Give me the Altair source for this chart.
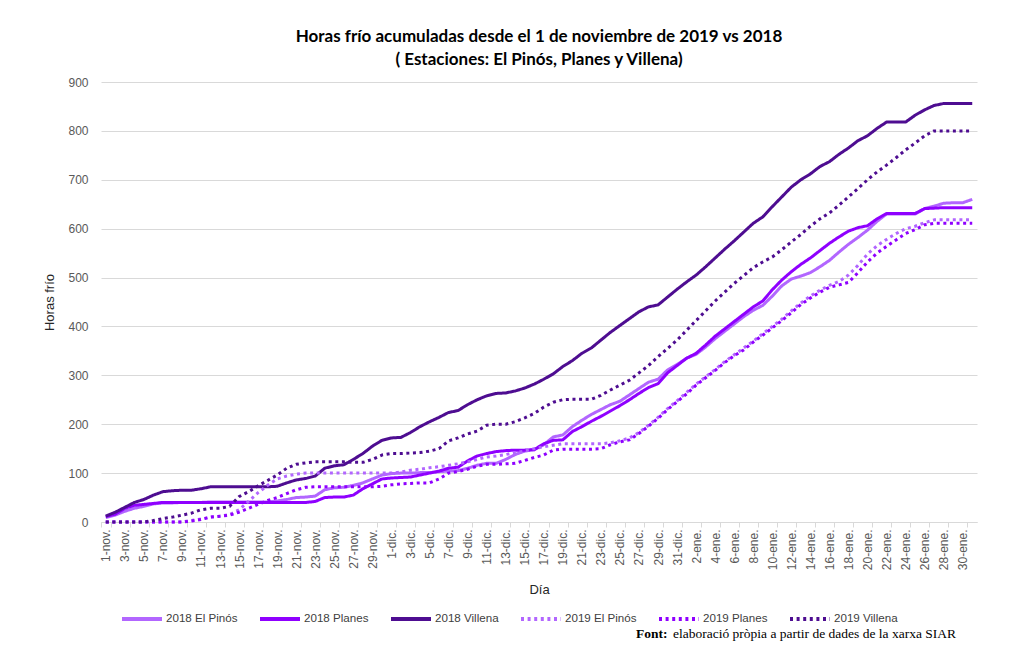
import altair as alt
import pandas as pd

# ---- categories (x axis) ----
month_names = ["nov.", "dic.", "ene."]
month_lengths = [30, 31, 31]
days = [f"{d}-{m}" for m, n in zip(month_names, month_lengths) for d in range(1, n + 1)]
tick_labels = days[::2]

series_names = ["2018 El Pinós", "2018 Planes", "2018 Villena",
                "2019 El Pinós", "2019 Planes", "2019 Villena"]

# ---- values (hours, cumulative) ----
pinos_2018 = [9, 14, 22, 28, 32, 37, 39, 39, 40, 40,
              40, 41, 41, 41, 41, 41, 41, 41, 43, 46,
              50, 51, 53, 66, 70, 71, 75, 80, 88, 96,
              99, 100, 100, 101, 101, 103, 104, 105, 110, 116,
              120, 120, 128, 138, 145, 148, 158, 174, 178, 195,
              208, 220, 230, 240, 247, 260, 273, 286, 292, 311,
              322, 335, 343, 358, 375, 390, 405, 420, 433, 443,
              462, 483, 497, 503, 510, 522, 535, 552, 568, 582,
              597, 615, 630, 630, 630, 630, 641, 646, 652, 653,
              653, 660]
planes_2018 = [11, 16, 28, 34, 36, 38, 40, 40, 40, 40,
               40, 40, 40, 40, 40, 40, 40, 40, 40, 40,
               40, 40, 42, 50, 51, 51, 55, 68, 78, 88,
               90, 91, 92, 96, 100, 104, 110, 112, 125, 135,
               140, 144, 146, 147, 147, 148, 160, 167, 168, 185,
               195, 206, 216, 227, 238, 250, 263, 275, 283, 305,
               320, 335, 345, 362, 380, 395, 410, 425, 440, 452,
               475, 495, 512, 527, 540, 555, 570, 583, 595, 602,
               606, 620, 631, 631, 631, 631, 641, 642, 643, 643,
               643, 643]
villena_2018 = [12, 20, 30, 40, 46, 55, 62, 64, 65, 65,
                68, 72, 72, 72, 72, 72, 72, 72, 73, 80,
                86, 89, 94, 110, 115, 117, 128, 140, 155, 167,
                172, 173, 183, 195, 205, 214, 224, 228, 240, 250,
                258, 263, 264, 268, 274, 282, 292, 303, 318, 330,
                345, 356, 372, 388, 402, 416, 430, 440, 444, 460,
                476, 491, 505, 522, 540, 558, 575, 593, 611, 624,
                645, 665, 685, 700, 712, 727, 737, 752, 765, 780,
                790, 805, 818, 818, 818, 832, 843, 852, 856, 856,
                856, 856]
pinos_2019 = [0, 0, 0, 0, 0, 0, 0, 0, 0, 3,
              6, 10, 12, 15, 25, 42, 60, 75, 88, 94,
              98, 100, 100, 100, 100, 100, 100, 100, 100, 100,
              100, 102, 106, 108, 111, 113, 116, 119, 123, 128,
              133, 135, 138, 142, 145, 150, 154, 157, 160, 160,
              160, 160, 160, 162, 166, 172, 183, 198, 214, 232,
              248, 265, 282, 297, 312, 328, 342, 356, 370, 385,
              400, 415, 432, 448, 462, 474, 484, 492, 505, 525,
              548, 565, 578, 590, 600, 605, 612, 618, 618, 618,
              618, 618]
planes_2019 = [0, 0, 0, 0, 0, 0, 0, 0, 0, 2,
               5, 10, 12, 14, 20, 28, 36, 44, 50, 58,
               66, 71, 72, 72, 72, 72, 72, 72, 72, 73,
               76, 78, 79, 80, 80, 88, 100, 103, 108, 114,
               118, 118, 119, 120, 126, 132, 137, 147, 149, 149,
               149, 149, 150, 158, 164, 168, 181, 196, 212, 230,
               246, 262, 280, 295, 310, 326, 340, 352, 368, 382,
               397, 412, 428, 445, 458, 470, 480, 485, 490, 510,
               532, 550, 564, 577, 590, 598, 608, 611, 611, 611,
               611, 611]
villena_2019 = [0, 0, 0, 0, 0, 3, 7, 10, 14, 18,
                25, 28, 28, 32, 52, 62, 74, 85, 96, 110,
                118, 121, 123, 123, 123, 123, 122, 122, 128, 137,
                140, 140, 141, 142, 145, 150, 166, 172, 180, 186,
                198, 200, 200, 205, 213, 222, 235, 245, 250, 251,
                251, 251, 259, 270, 280, 290, 305, 320, 338, 355,
                372, 392, 412, 432, 452, 470, 488, 504, 520, 532,
                542, 557, 573, 588, 605, 620, 632, 648, 665, 682,
                700, 716, 730, 745, 761, 775, 790, 800, 800, 800,
                800, 800]

all_values = [pinos_2018, planes_2018, villena_2018, pinos_2019, planes_2019, villena_2019]

colors = ["#b266ff", "#8f00ff", "#4e0d91", "#b266ff", "#8f00ff", "#4e0d91"]
dashes = [[1, 0], [1, 0], [1, 0], [3, 3.6], [3, 3.6], [3, 3.6]]

title_lines = ["Horas frío acumuladas desde el 1 de noviembre de 2019 vs 2018",
               "( Estaciones: El Pinós, Planes y Villena)"]
footer_bold = "Font:"
footer_rest = "elaboració pròpia a partir de dades de la xarxa SIAR"

rows = []
for name, vals in zip(series_names, all_values):
    for d, v in zip(days, vals):
        rows.append({"Día": d, "serie": name, "valor": v})
df = pd.DataFrame(rows)

legend_props = dict(
    title=None, orient="none", legendX=19, legendY=515, direction="horizontal",
    columns=6, gridAlign="none", symbolType="stroke", symbolSize=1600, symbolStrokeWidth=4,
    labelFont="Liberation Sans", labelFontSize=11.6, labelColor="#404040",
    labelOffset=2, columnPadding=14,
)

lines = alt.Chart(df).mark_line(strokeWidth=3, strokeCap="butt", strokeJoin="round").encode(
    x=alt.X("Día:O", sort=days, bandPosition=0.5,
            scale=alt.Scale(type="band", paddingInner=0, paddingOuter=0),
            axis=alt.Axis(values=tick_labels, labelAngle=270, tickBand="extent",
                          title="Día", grid=False, domain=True, ticks=True, tickSize=5,
                          labelPadding=2, titlePadding=14)),
    y=alt.Y("valor:Q", scale=alt.Scale(domain=[0, 900]),
            axis=alt.Axis(values=list(range(0, 901, 100)), title="Horas frío",
                          domain=False, ticks=False, labelPadding=13, titlePadding=11)),
    color=alt.Color("serie:N", sort=series_names,
                    scale=alt.Scale(domain=series_names, range=colors),
                    legend=alt.Legend(**legend_props)),
    strokeDash=alt.StrokeDash("serie:N", sort=series_names,
                              scale=alt.Scale(domain=series_names, range=dashes),
                              legend=alt.Legend(**legend_props)),
)

foot1 = alt.Chart(pd.DataFrame({"t": [footer_bold]})).mark_text(
    font="Liberation Serif", fontSize=13.5, fontWeight="bold", align="left",
    baseline="alphabetic", color="#000000").encode(
    text="t:N", x=alt.value(535), y=alt.value(556))
foot2 = alt.Chart(pd.DataFrame({"t": [footer_rest]})).mark_text(
    font="Liberation Serif", fontSize=13.5, align="left",
    baseline="alphabetic", color="#000000").encode(
    text="t:N", x=alt.value(572), y=alt.value(556))

chart = alt.layer(lines, foot1, foot2).properties(
    width=876, height=440,
    autosize=alt.AutoSizeParams(type="none"),
    padding={"left": 93, "top": 74, "right": 24, "bottom": 122},
    title=alt.TitleParams(text=title_lines, font="Lato", fontSize=17, fontWeight="bold",
                          color="#000000", anchor="middle", lineHeight=23.5, offset=7),
).configure_axis(
    labelFont="Liberation Sans", labelFontSize=12, labelColor="#595959",
    titleFont="Liberation Sans", titleFontSize=13, titleFontWeight="normal", titleColor="#262626",
    gridColor="#d9d9d9", domainColor="#d9d9d9", tickColor="#d9d9d9",
).configure_view(stroke=None)

chart.save("out.html", embed_options={"renderer": "svg", "actions": False})
